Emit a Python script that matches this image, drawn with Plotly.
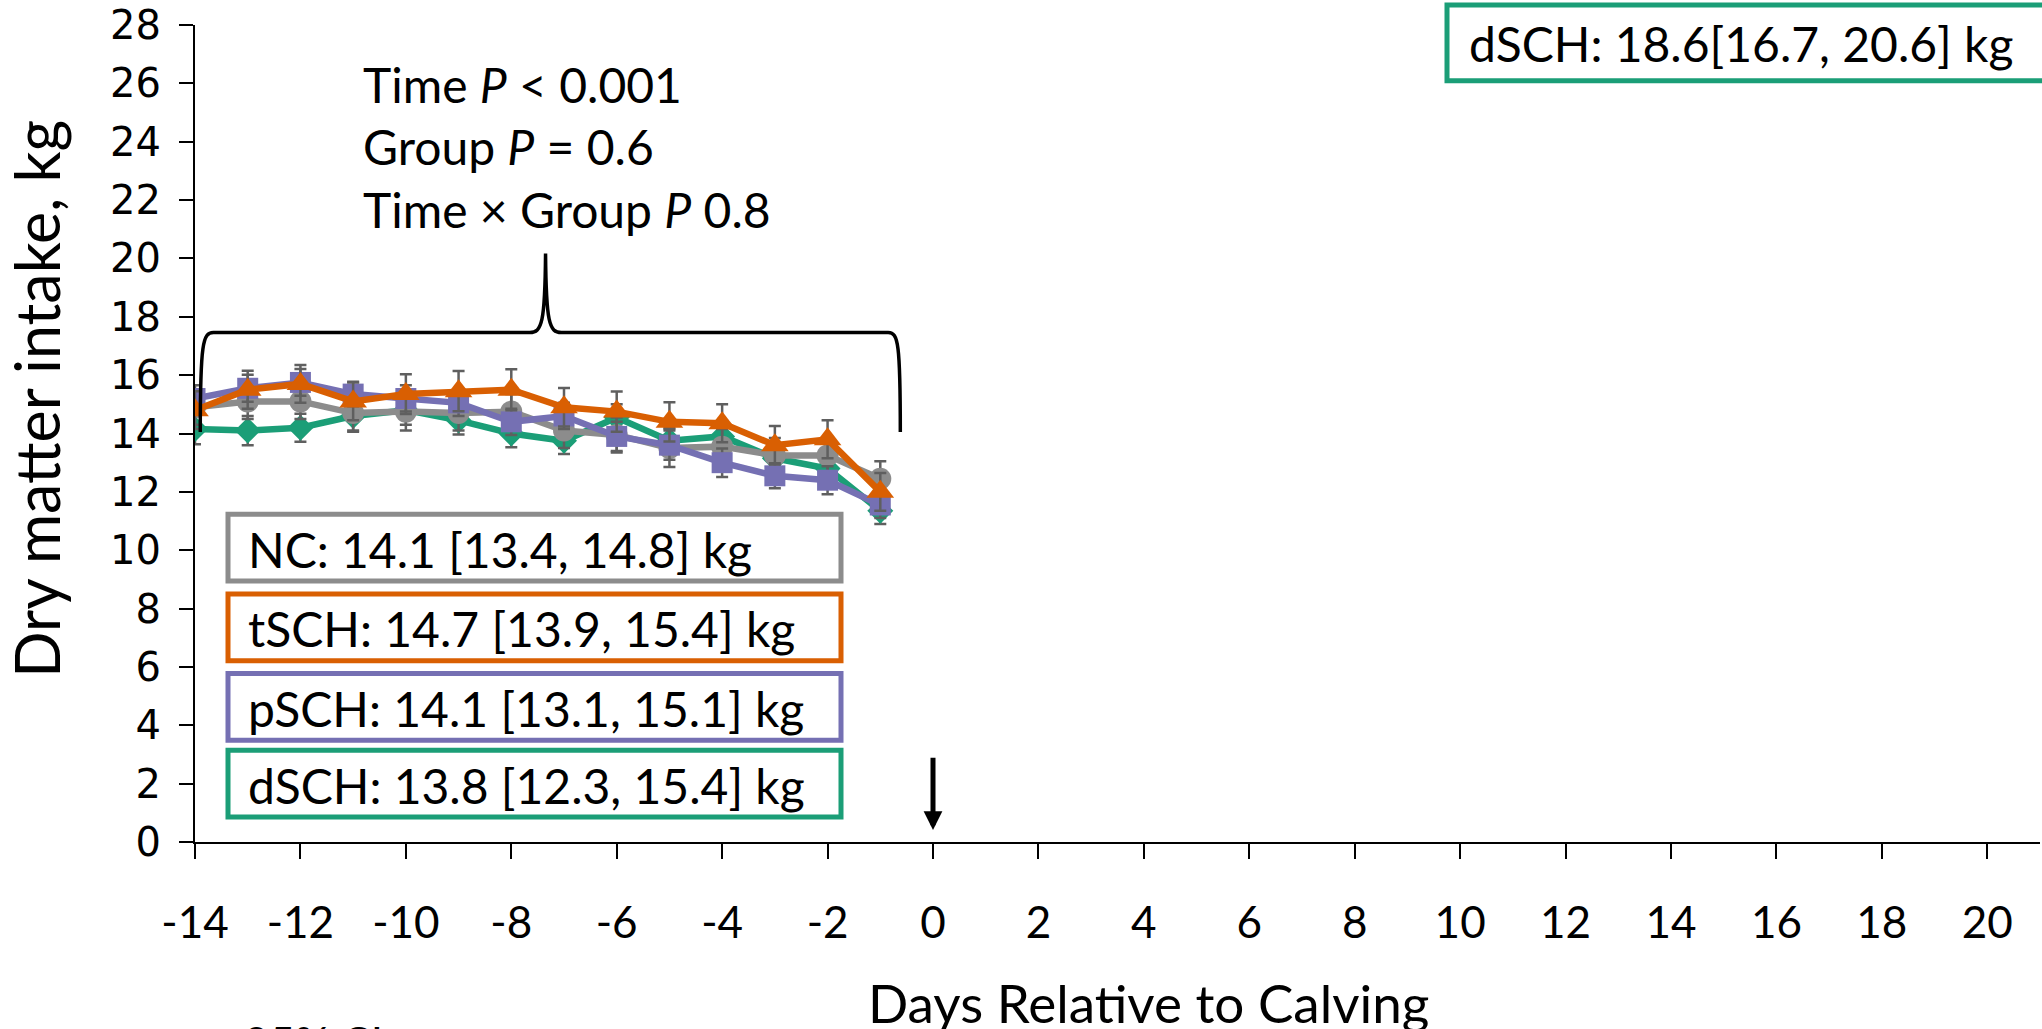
import plotly.graph_objects as go

# ---- data -------------------------------------------------------------
days = [-14, -13, -12, -11, -10, -9, -8, -7, -6, -5, -4, -3, -2, -1]

nc_dmi = [14.9, 15.1, 15.1, 14.7, 14.75, 14.7, 14.75, 14.1, 13.95, 13.5, 13.55, 13.25, 13.25, 12.45]
tsch_dmi = [14.8, 15.5, 15.7, 15.1, 15.35, 15.45, 15.5, 14.9, 14.75, 14.4, 14.35, 13.6, 13.8, 12.0]
psch_dmi = [15.2, 15.55, 15.75, 15.35, 15.2, 15.05, 14.4, 14.6, 13.9, 13.6, 13.0, 12.55, 12.4, 11.55]
dsch_dmi = [14.15, 14.1, 14.2, 14.6, 14.8, 14.45, 14.0, 13.75, 14.55, 13.75, 13.9, 13.15, 12.8, 11.35]

nc_ci = [0.6, 0.6, 0.6, 0.6, 0.65, 0.6, 0.6, 0.6, 0.6, 0.65, 0.6, 0.6, 0.6, 0.6]
tsch_ci = [0.65, 0.65, 0.65, 0.65, 0.68, 0.69, 0.7, 0.66, 0.69, 0.67, 0.65, 0.66, 0.65, 0.65]
psch_ci = [0.45, 0.46, 0.46, 0.42, 0.45, 0.45, 0.45, 0.45, 0.5, 0.5, 0.49, 0.43, 0.48, 0.45]
dsch_ci = [0.52, 0.5, 0.48, 0.54, 0.5, 0.48, 0.47, 0.45, 0.45, 0.45, 0.45, 0.45, 0.45, 0.45]

group_labels = [
    "NC: 14.1 [13.4, 14.8] kg",
    "tSCH: 14.7 [13.9, 15.4] kg",
    "pSCH: 14.1 [13.1, 15.1] kg",
    "dSCH: 13.8 [12.3, 15.4] kg",
]
postpartum_label = "dSCH: 18.6[16.7, 20.6] kg"
stats_lines = ["Time <i>P</i> &lt; 0.001", "Group <i>P</i> = 0.6", "Time × Group <i>P</i> 0.8"]

x_ticks = list(range(-14, 21, 2))
y_ticks = list(range(0, 29, 2))

# ---- styling ----------------------------------------------------------
GRAY = "#8c8c8c"
ORANGE = "#d95f02"
PURPLE = "#7570b3"
GREEN = "#1b9e77"
ERR = "#5f5f5f"
FONT = "Lato"

W, H = 2042, 1029
L, R, T, B = 195, 2, 22, 187
PW, PH = W - L - R, H - T - B


def px(xp):
    return (xp - L) / PW


def py(yp):
    return (H - B - yp) / PH


fig = go.Figure()

series = [
    ("dSCH", dsch_dmi, dsch_ci, GREEN, "diamond", 20),
    ("NC", nc_dmi, nc_ci, GRAY, "circle", 22),
    ("pSCH", psch_dmi, psch_ci, PURPLE, "square", 21),
    ("tSCH", tsch_dmi, tsch_ci, ORANGE, "triangle-up", 24),
]
for name, vals, ci, col, sym, size in series:
    fig.add_trace(go.Scatter(
        x=days, y=vals, name=name, mode="lines+markers",
        line=dict(color=col, width=6.5),
        marker=dict(symbol=sym, size=size, color=col, line=dict(width=0)),
        error_y=dict(type="data", array=ci, visible=True, color=ERR,
                     thickness=2.5, width=6),
        showlegend=False,
    ))

# brace spanning the prepartum period
brace = ("M -13.9,14.05 C -13.9,17.1 -13.85,17.46 -13.65,17.46 "
         "L -7.65,17.46 C -7.42,17.46 -7.36,17.8 -7.35,20.17 "
         "C -7.34,17.8 -7.28,17.46 -7.05,17.46 "
         "L -0.85,17.46 C -0.66,17.46 -0.62,17.1 -0.62,14.05")
fig.add_shape(type="path", path=brace, xref="x", yref="y",
              line=dict(color="black", width=3.5))

# calving arrow at day 0
fig.add_annotation(x=0, y=0.41, ax=0, ay=2.94, xref="x", yref="y",
                   axref="x", ayref="y", text="", showarrow=True,
                   arrowhead=2, arrowsize=0.75, arrowwidth=5,
                   arrowcolor="black", standoff=0)

# statistics text
for line, ypix in zip(stats_lines, [82, 144, 207]):
    fig.add_annotation(x=px(361), y=py(ypix), xref="paper", yref="paper",
                       text=line, showarrow=False, xanchor="left",
                       yanchor="middle", font=dict(family=FONT, size=48, color="black"))

# group summary boxes
box_cols = [GRAY, ORANGE, PURPLE, GREEN]
box_tops = [513, 593, 673, 750]
for label, col, top in zip(group_labels, box_cols, box_tops):
    fig.add_shape(type="rect", xref="paper", yref="paper",
                  x0=px(228), x1=px(841), y0=py(top), y1=py(top + 67),
                  line=dict(color=col, width=5), fillcolor="white", layer="above")
    fig.add_annotation(x=px(246), y=py(top + 35), xref="paper", yref="paper",
                       text=label, showarrow=False, xanchor="left",
                       yanchor="middle", font=dict(family=FONT, size=48, color="black"))

# postpartum summary box (top right)
fig.add_shape(type="rect", xref="paper", yref="paper",
              x0=px(1447), x1=px(2070), y0=py(2), y1=py(78),
              line=dict(color=GREEN, width=5), fillcolor="white", layer="above")
fig.add_annotation(x=px(1467), y=py(41), xref="paper", yref="paper",
                   text=postpartum_label, showarrow=False, xanchor="left",
                   yanchor="middle", font=dict(family=FONT, size=48, color="black"))

# axis titles
fig.add_annotation(x=px(37), y=py(397), xref="paper", yref="paper",
                   text="Dry matter intake, kg", textangle=-90, showarrow=False,
                   xanchor="center", yanchor="middle",
                   font=dict(family=FONT, size=61, color="black"))
fig.add_annotation(x=px(1148), y=py(1003), xref="paper", yref="paper",
                   text="Days Relative to Calving", showarrow=False,
                   xanchor="center", yanchor="middle",
                   font=dict(family=FONT, size=53, color="black"))

# footnote and panel letter
fig.add_annotation(x=px(205), y=py(1043), xref="paper", yref="paper",
                   text="± 95% CI", showarrow=False, xanchor="left",
                   yanchor="middle", font=dict(family=FONT, size=44, color="black"))
fig.add_annotation(x=px(1995), y=py(1047), xref="paper", yref="paper",
                   text="C", showarrow=False, xanchor="center",
                   yanchor="middle", font=dict(family=FONT, size=50, color="black"))

fig.update_xaxes(range=[-14, 21], tickvals=x_ticks, ticktext=[str(v) for v in x_ticks],
                 showline=True, linecolor="black", linewidth=2,
                 ticks="outside", ticklen=15, tickwidth=2, tickcolor="black",
                 showgrid=False, zeroline=False, ticklabelstandoff=26,
                 tickfont=dict(family=FONT, size=44, color="black"))
fig.update_yaxes(range=[0, 28], tickvals=y_ticks, ticktext=[str(v) for v in y_ticks],
                 showline=True, linecolor="black", linewidth=2,
                 ticks="outside", ticklen=14, tickwidth=2, tickcolor="black",
                 showgrid=False, zeroline=False, ticklabelstandoff=10,
                 ticklabeloverflow="allow",
                 tickfont=dict(family="DejaVu Sans", size=40, color="black"))

fig.update_layout(width=W, height=H, margin=dict(l=L, r=R, t=T, b=B),
                  plot_bgcolor="white", paper_bgcolor="white")

fig.write_html("out.html")
